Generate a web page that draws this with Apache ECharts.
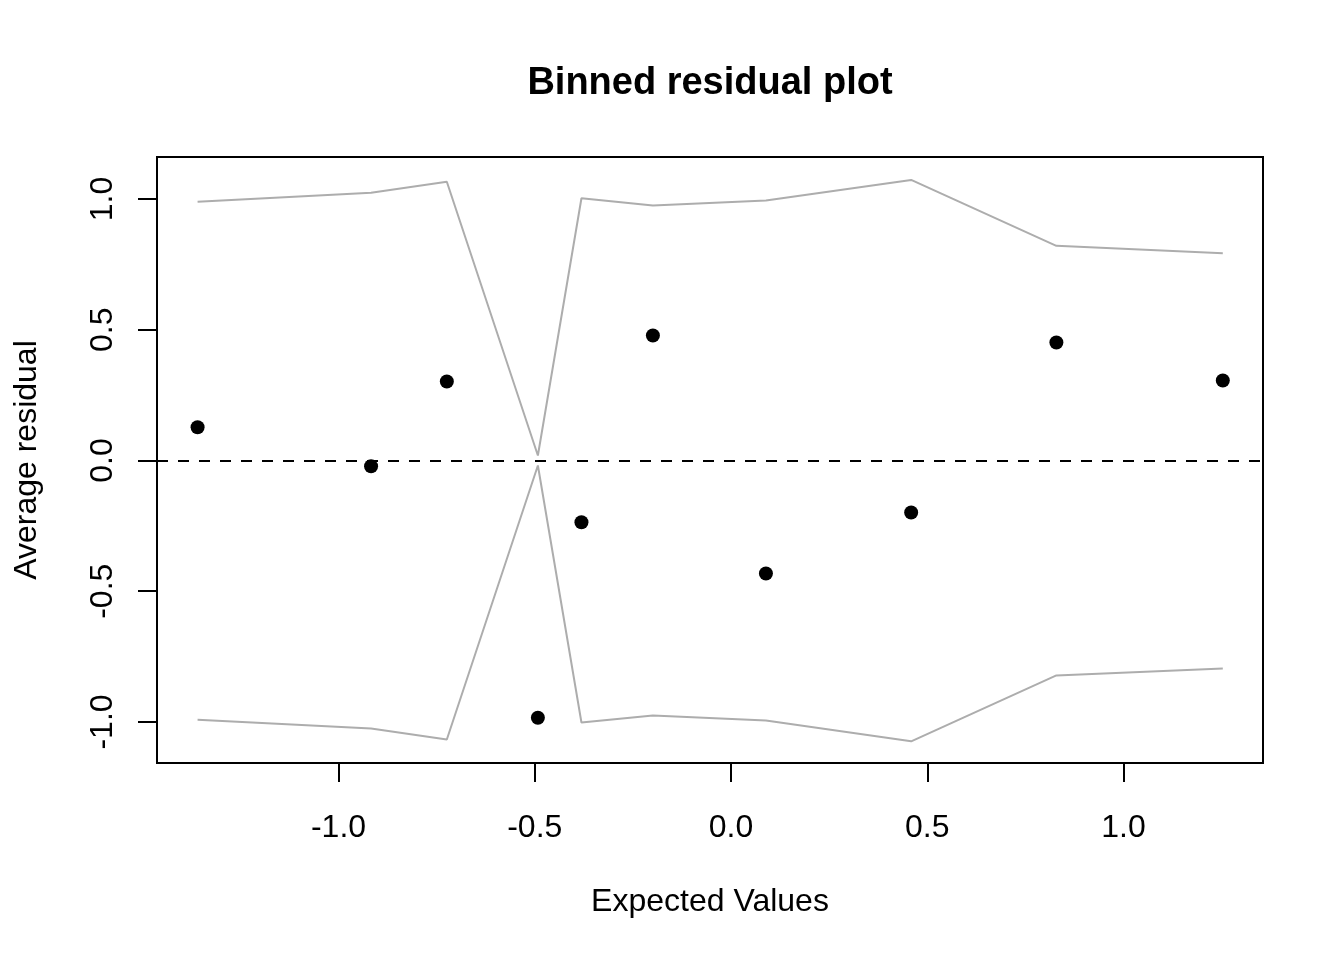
<!DOCTYPE html>
<html>
<head>
<meta charset="utf-8">
<script src="https://cdn.jsdelivr.net/npm/echarts@6/dist/echarts.min.js"></script>
<style>html,body{margin:0;padding:0;background:#fff;}#c{width:1344px;height:960px;}</style>
</head>
<body>
<div id="c"></div>
<script>
const expectedValues = [-1.359, -0.917, -0.724, -0.492, -0.381, -0.199, 0.089, 0.459, 0.829, 1.253];
const avgResidual    = [0.127, -0.022, 0.302, -0.984, -0.236, 0.478, -0.432, -0.199, 0.451, 0.306];
const upperBound     = [0.989, 1.024, 1.066, 0.019, 1.003, 0.975, 0.994, 1.073, 0.821, 0.793];
const lowerBound     = [-0.991, -1.025, -1.067, -0.019, -1.002, -0.975, -0.994, -1.074, -0.822, -0.795];
const xTicks = [-1.0, -0.5, 0.0, 0.5, 1.0];
const yTicks = [-1.0, -0.5, 0.0, 0.5, 1.0];

const font = "'Liberation Sans', Arial, Helvetica, sans-serif";
const pts = expectedValues.map((x, i) => [x, avgResidual[i]]);
const up = expectedValues.map((x, i) => [x, upperBound[i]]);
const lo = expectedValues.map((x, i) => [x, lowerBound[i]]);

const chart = echarts.init(document.getElementById('c'), null, {renderer: 'canvas'});
chart.setOption({
  animation: false,
  backgroundColor: '#ffffff',
  title: {
    text: 'Binned residual plot',
    left: 705, textAlign: 'center', top: 60,
    textStyle: {fontFamily: font, fontWeight: 'bold', fontSize: 38, color: '#000'}
  },
  grid: {left: 157, top: 157, width: 1106, height: 606, show: true, borderColor: '#000', borderWidth: 2, backgroundColor: 'transparent'},
  xAxis: {
    type: 'value', min: -1.4624, max: 1.3554, position: 'bottom',
    name: 'Expected Values', nameLocation: 'middle', nameGap: 123,
    nameTextStyle: {fontFamily: font, fontSize: 32, color: '#000'},
    axisLine: {show: false, onZero: false},
    splitLine: {show: false},
    axisTick: {show: true, customValues: xTicks, length: 19, lineStyle: {color: '#000', width: 2}},
    axisLabel: {customValues: xTicks, margin: 49, fontFamily: font, fontSize: 32, color: '#000',
      formatter: v => v.toFixed(1)}
  },
  yAxis: {
    type: 'value', min: -1.1568, max: 1.1606, position: 'left',
    name: 'Average residual', nameLocation: 'middle', nameGap: 114,
    nameTextStyle: {fontFamily: font, fontSize: 32, color: '#000'},
    axisLine: {show: false, onZero: false},
    splitLine: {show: false},
    axisTick: {show: true, customValues: yTicks, length: 19, lineStyle: {color: '#000', width: 2}},
    axisLabel: {customValues: yTicks, rotate: 90, margin: 38, fontFamily: font, fontSize: 32, color: '#000',
      formatter: v => v.toFixed(1)}
  },
  series: [
    {type: 'line', data: up, symbol: 'none', lineStyle: {color: '#adadad', width: 2}, z: 2},
    {type: 'line', data: lo, symbol: 'none', lineStyle: {color: '#adadad', width: 2}, z: 2,
      markLine: {silent: true, symbol: 'none', label: {show: false},
        lineStyle: {color: '#000', width: 2, type: [11, 10]},
        data: [{yAxis: 0}]}},
    {type: 'scatter', data: pts, symbol: 'circle', symbolSize: 14, itemStyle: {color: '#000', opacity: 1}, z: 5}
  ]
});
</script>
</body>
</html>
